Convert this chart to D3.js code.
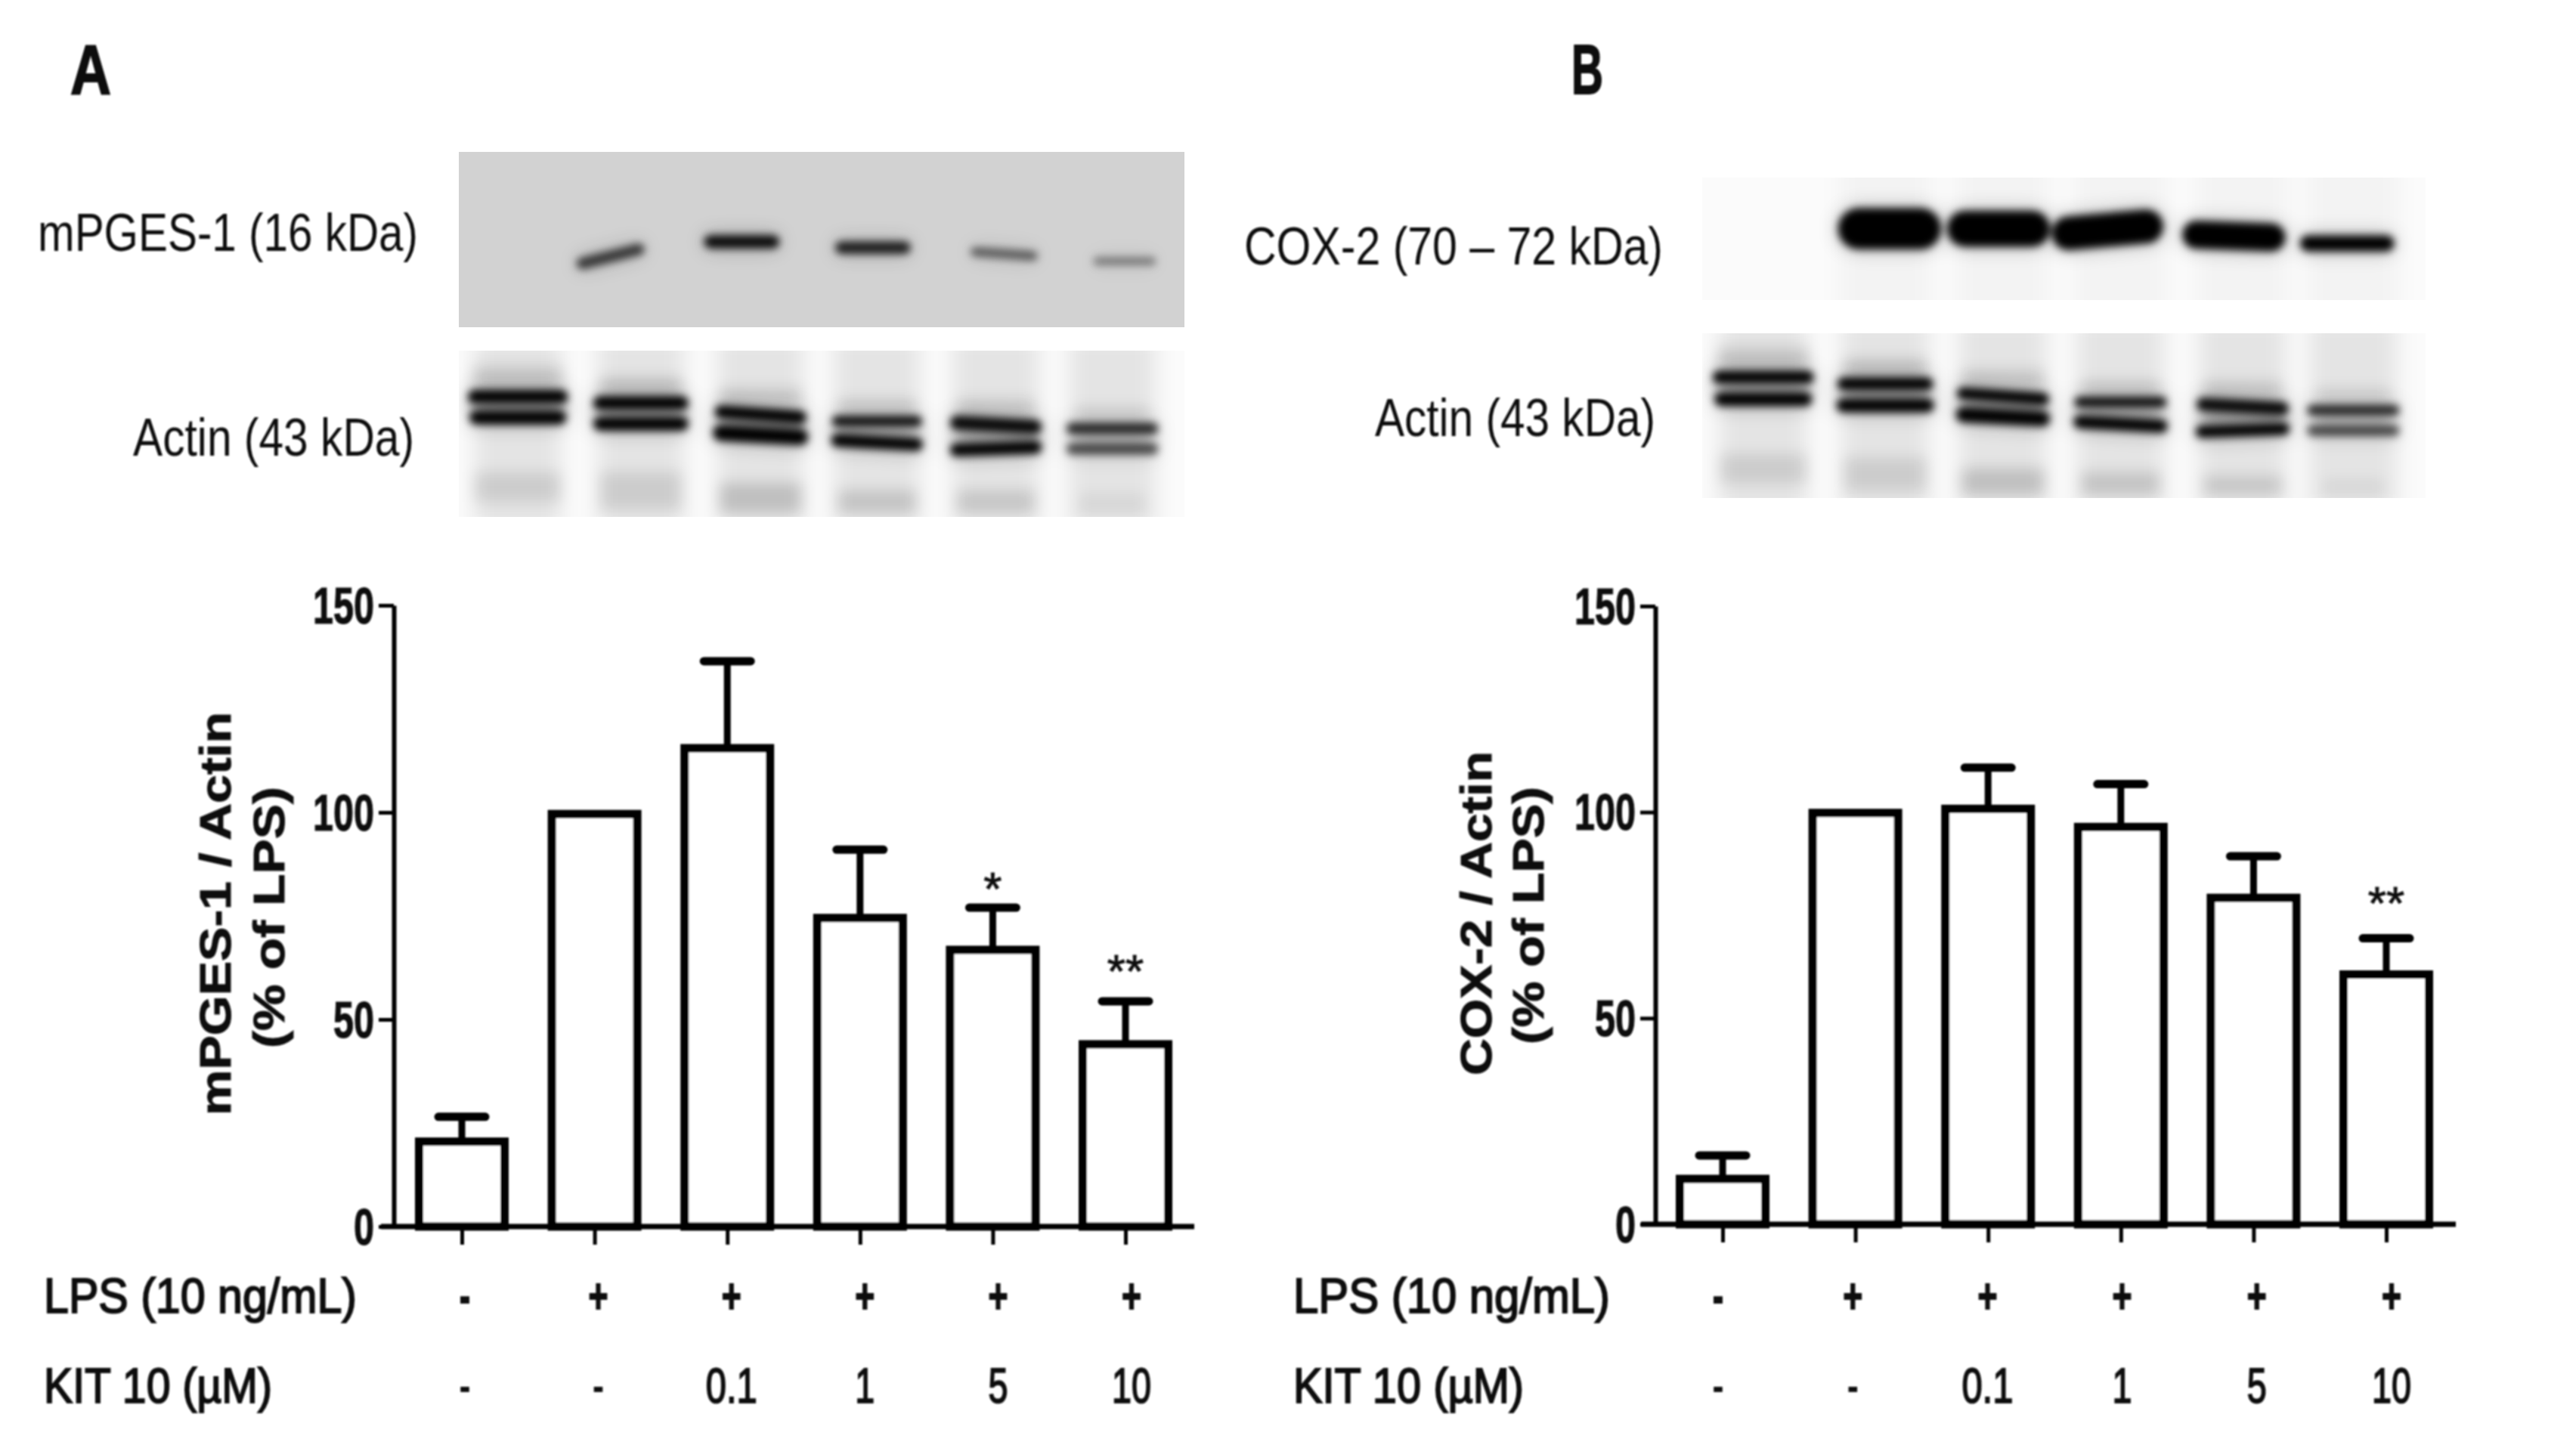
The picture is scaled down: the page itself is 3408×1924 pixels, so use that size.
<!DOCTYPE html>
<html><head><meta charset="utf-8">
<script src="https://cdn.jsdelivr.net/npm/d3@7/dist/d3.min.js"></script>
<style>html,body{margin:0;background:#fff}svg{display:block}text{font-family:"Liberation Sans",Arial,sans-serif;fill:#111}</style>
</head><body><svg id="c" width="3408" height="1924"></svg>
<script>
// ---------- data ----------
const lps = ["-","+","+","+","+","+"];
const kit = ["-","-","0.1","1","5","10"];
const groups = ["g1","g2","g3","g4","g5","g6"];
const mpgesMean = [20.5,99.6,115.5,74.5,66.8,44];
const mpgesTop  = [26.5,null,136.5,91,77,54.4];
const mpgesStars = ["","","","","*","**"];
const coxMean = [11,99.8,100.8,96.4,79.2,60.6];
const coxTop  = [16.7,null,110.8,106.8,89.3,69.4];
const coxStars = ["","","","","","**"];
const yTicks = [0,50,100,150];
// blot bands, in gel units: [centre, band position, length, thickness, darkness, tilt]
const mpgesBands = [[745,700,85,32,.72,-14],[905,660,92,36,.95,0],[1065,676,92,34,.85,0],[1225,693,82,26,.55,4],[1372,713,76,22,.42,0]];
const coxBands = [[780,625,118,112,1,0],[905,625,118,98,1,0],[1030,628,128,92,1,-5],[1175,645,118,76,1,2],[1305,665,108,44,1,0]];
const actinA = [[632,1083,122,38,1,0],[632,1140,118,38,1,0],[782,1100,116,38,1,0],[782,1157,116,38,1,0],[928,1132,112,36,1,4],[928,1188,116,44,1,3],[1070,1150,110,30,.92,0],[1070,1208,112,36,1,3],[1215,1160,112,40,.95,3],[1215,1225,112,36,1,-2],[1357,1170,112,32,.8,0],[1357,1226,112,32,.65,0]];
const actinB = [[635,1030,116,36,1,0],[635,1090,112,38,1,0],[775,1048,110,36,1,0],[775,1107,112,38,1,0],[910,1082,106,34,1,4],[910,1138,108,42,1,3],[1045,1098,106,30,.92,0],[1045,1158,108,36,1,3],[1185,1110,106,38,.95,3],[1185,1175,108,34,1,-2],[1312,1120,106,30,.8,0],[1312,1176,106,30,.65,0]];
// smears behind the actin bands: [centre, start, end, width, darkness]
const smearA = [[632,1000,1060,110,.14],[632,1290,1370,105,.1],[782,1030,1080,100,.15],[782,1290,1390,100,.1],[928,1060,1110,100,.13],[928,1320,1400,100,.16],[1070,1090,1130,95,.12],[1070,1340,1400,95,.14],[1215,1090,1140,95,.12],[1215,1340,1400,95,.13],[1357,1110,1150,90,.09],[1357,1350,1400,80,.06],
  [632,1100,1130,110,.35],[782,1118,1140,105,.35],[928,1150,1170,100,.35],[1070,1170,1190,100,.35],[1215,1185,1205,100,.4],[1357,1190,1205,95,.3]];
const smearB = [[635,950,1010,105,.14],[635,1240,1320,100,.1],[775,980,1030,95,.15],[775,1250,1340,95,.1],[910,1010,1060,95,.13],[910,1280,1350,95,.16],[1045,1040,1080,90,.12],[1045,1290,1350,90,.14],[1185,1040,1090,90,.12],[1185,1300,1350,90,.13],[1312,1060,1100,85,.09],[1312,1310,1350,70,.06],
  [635,1050,1072,105,.35],[775,1066,1090,100,.35],[910,1100,1120,95,.35],[1045,1118,1140,95,.35],[1185,1130,1155,95,.4],[1312,1140,1158,90,.3]];
const laneTintA = [632,782,928,1070,1215,1357];
const laneTintB = [635,775,910,1045,1185,1312];

// ---------- helpers ----------
const svg = d3.select("#c");
const defs = svg.append("defs");
[["b1",1.3],["b4",5.5],["b6",9],["b12",14]].forEach(([id,s])=>{
  defs.append("filter").attr("id",id).attr("x","-30%").attr("y","-60%").attr("width","160%").attr("height","220%")
    .append("feGaussianBlur").attr("stdDeviation",s);
});
function label(g,str,x,y,size,len,opt={}){
  return g.append("text").attr("x",x).attr("y",y).attr("font-size",size)
    .attr("font-weight",opt.w||400).attr("text-anchor",opt.a||"start")
    .attr("textLength",len).attr("lengthAdjust","spacingAndGlyphs")
    .attr("stroke",opt.s?"#111":null).attr("stroke-width",opt.s||null)
    .attr("transform",opt.rot?`rotate(-90 ${x} ${y})`:null).text(str);
}
let clipN=0;
function blot(b){
  const gx=d3.scaleLinear().domain(b.gx).range(b.px), gy=d3.scaleLinear().domain(b.gy).range(b.py);
  const k=(b.px[1]-b.px[0])/(b.gx[1]-b.gx[0]), ky=(b.py[1]-b.py[0])/(b.gy[1]-b.gy[0]);
  const id="clip"+(clipN++);
  defs.append("clipPath").attr("id",id).append("rect").attr("x",b.px[0]).attr("y",b.py[0]).attr("width",b.px[1]-b.px[0]).attr("height",b.py[1]-b.py[0]);
  const g=svg.append("g").attr("clip-path",`url(#${id})`);
  g.append("rect").attr("x",b.px[0]).attr("y",b.py[0]).attr("width",b.px[1]-b.px[0]).attr("height",b.py[1]-b.py[0]).attr("fill",b.bg);
  if(b.lanes) g.append("g").attr("filter","url(#b12)").selectAll("rect").data(b.lanes).join("rect")
    .attr("x",d=>gx(d)-b.laneW*k/2).attr("width",b.laneW*k).attr("y",b.py[0]-20).attr("height",b.py[1]-b.py[0]+40).attr("fill","#000").attr("opacity",b.laneO);
  if(b.smear) g.append("g").attr("filter","url(#b6)").selectAll("rect").data(b.smear).join("rect")
    .attr("x",d=>gx(d[0])-d[3]*k/2).attr("width",d=>d[3]*k).attr("y",d=>gy(d[1])).attr("height",d=>(d[2]-d[1])*ky).attr("fill","#000").attr("opacity",d=>d[4]);
  [["b12",.28],["b4",1]].forEach(([f,o])=>{
    g.append("g").attr("filter",`url(#${f})`).attr("opacity",o).selectAll("rect").data(b.bands).join("rect")
      .attr("x",d=>gx(d[0])-d[2]*k/2).attr("width",d=>d[2]*k)
      .attr("y",d=>gy(d[1])-d[3]*ky/2).attr("height",d=>d[3]*ky)
      .attr("rx",d=>Math.min(d[2]*k,d[3]*ky)/2)
      .attr("fill","#000").attr("opacity",d=>d[4])
      .attr("transform",d=>`rotate(${d[5]} ${gx(d[0])} ${gy(d[1])})`);
  });
}
function chart(c){
  const g=svg.append("g").attr("filter","url(#b1)");
  const y=d3.scaleLinear().domain([0,150]).range([c.y0,c.y150]);
  const x=d3.scalePoint().domain(groups).range(c.xr);
  const lab=d3.scalePoint().domain(groups).range(c.labr);
  const bw=113;
  // bars
  g.append("g").selectAll("rect").data(c.mean).join("rect")
    .attr("x",(d,i)=>x(groups[i])-bw/2).attr("width",bw).attr("y",d=>y(d)).attr("height",d=>y(0)-y(d))
    .attr("fill","#fff").attr("stroke","#000").attr("stroke-width",11);
  // error bars
  const eb=g.append("g").attr("stroke","#000").selectAll("g").data(c.top.map((t,i)=>({t,i,m:c.mean[i]})).filter(d=>d.t!=null)).join("g");
  eb.append("line").attr("x1",d=>x(groups[d.i])).attr("x2",d=>x(groups[d.i])).attr("y1",d=>y(d.m)).attr("y2",d=>y(d.t)).attr("stroke-width",9);
  eb.append("line").attr("x1",d=>x(groups[d.i])-31).attr("x2",d=>x(groups[d.i])+31).attr("y1",d=>y(d.t)).attr("y2",d=>y(d.t)).attr("stroke-width",11).attr("stroke-linecap","round");
  // axes
  const ya=g.append("g").attr("transform",`translate(${c.ax},0)`).call(d3.axisLeft(y).tickValues(yTicks).tickSize(20).tickSizeOuter(0).tickPadding(6));
  ya.selectAll("path,line").attr("stroke","#000");
  ya.select("path").attr("stroke-width",6); ya.selectAll("line").attr("stroke-width",5);
  ya.selectAll("text").attr("font-size",68).attr("font-weight",700).attr("font-family","Liberation Sans")
    .attr("stroke","#111").attr("stroke-width",1.2)
    .attr("textLength",d=>String(d).length*27).attr("lengthAdjust","spacingAndGlyphs").attr("dy","0.34em");
  const xa=g.append("g").attr("transform",`translate(0,${y(0)})`).call(d3.axisBottom(x).tickSize(24).tickSizeOuter(0).tickFormat(""));
  xa.select("path").remove();
  xa.selectAll("line").attr("stroke","#000").attr("stroke-width",5);
  g.append("line").attr("x1",c.xl[0]).attr("x2",c.xl[1]).attr("y1",y(0)).attr("y2",y(0)).attr("stroke","#000").attr("stroke-width",7);
  // stars
  g.append("g").selectAll("text").data(c.stars).join("text").attr("text-anchor","middle")
    .attr("x",(d,i)=>x(groups[i])).attr("y",(d,i)=>c.starY[i]).attr("font-size",62).attr("font-weight",400)
    .attr("stroke","#111").attr("stroke-width",1).text(d=>d);
  // titles
  label(g,c.t1,c.t1x,c.t1y,57,c.t1l,{w:700,rot:true,s:1});
  label(g,"(% of LPS)",c.t2x,c.t2y,57,c.t2l,{w:700,rot:true,s:1});
  // treatment rows
  label(g,"LPS (10 ng/mL)",c.rx,c.r1,64,c.r1l,{s:2});
  label(g,"KIT 10 (µM)",c.rx,c.r2,64,c.r2l,{s:2});
  const wid=s=>s==="-"?14:s==="+"?26:s.length===3?68:s.length===2?52:26;
  [[lps,c.r1,700],[kit,c.r2,400]].forEach(([arr,yy,w])=>{
    g.append("g").selectAll("text").data(arr).join("text").attr("text-anchor","middle")
      .attr("x",(d,i)=>lab(groups[i])).attr("y",yy).attr("font-size",64).attr("font-weight",w)
      .attr("stroke","#111").attr("stroke-width",2)
      .attr("textLength",wid).attr("lengthAdjust","spacingAndGlyphs").text(d=>d);
  });
}

// ---------- blots ----------
blot({px:[607,1567],py:[201,433],gx:[560,1445],gy:[415,893],bg:"#d2d2d2",bands:mpgesBands});
blot({px:[607,1567],py:[464,684],gx:[560,1445],gy:[957,1412],bg:"#fbfbfb",bands:actinA,smear:smearA,lanes:laneTintA,laneW:105,laneO:.09});
blot({px:[2252,3209],py:[235,397],gx:[565,1395],gy:[485,820],bg:"#fbfbfb",bands:coxBands,lanes:laneTintB.slice(1),laneW:105,laneO:.03});
blot({px:[2252,3209],py:[441,659],gx:[565,1395],gy:[910,1360],bg:"#fbfbfb",bands:actinB,smear:smearB,lanes:laneTintB,laneW:100,laneO:.09});

// ---------- panel labels ----------
const heads=svg.append("g").attr("filter","url(#b1)");
label(heads,"A",93,124,93,54,{w:700,s:2});
label(heads,"B",2079,124,93,42,{w:700,s:2});
label(heads,"mPGES-1 (16 kDa)",50,332,70,503);
label(heads,"Actin (43 kDa)",176,603,70,372);
label(heads,"COX-2 (70 – 72 kDa)",1646,350,70,554);
label(heads,"Actin (43 kDa)",1819,577,70,371);

// ---------- charts ----------
chart({ax:521,y0:1623,y150:801,xr:[611,1489],labr:[615,1497],xl:[504,1580],mean:mpgesMean,top:mpgesTop,stars:mpgesStars,starY:[0,0,0,0,1197,1306],
  t1:"mPGES-1 / Actin",t1x:305,t1y:1476,t1l:534,t2x:376,t2y:1387,t2l:346,rx:58,r1:1737,r2:1856,r1l:414,r2l:302});
chart({ax:2190,y0:1620,y150:802,xr:[2279,3157],labr:[2273,3164],xl:[2171,3249],mean:coxMean,top:coxTop,stars:coxStars,starY:[0,0,0,0,0,1216],
  t1:"COX-2 / Actin",t1x:1973,t1y:1423,t1l:429,t2x:2042,t2y:1382,t2l:341,rx:1711,r1:1737,r2:1856,r1l:419,r2l:305});
</script></body></html>
